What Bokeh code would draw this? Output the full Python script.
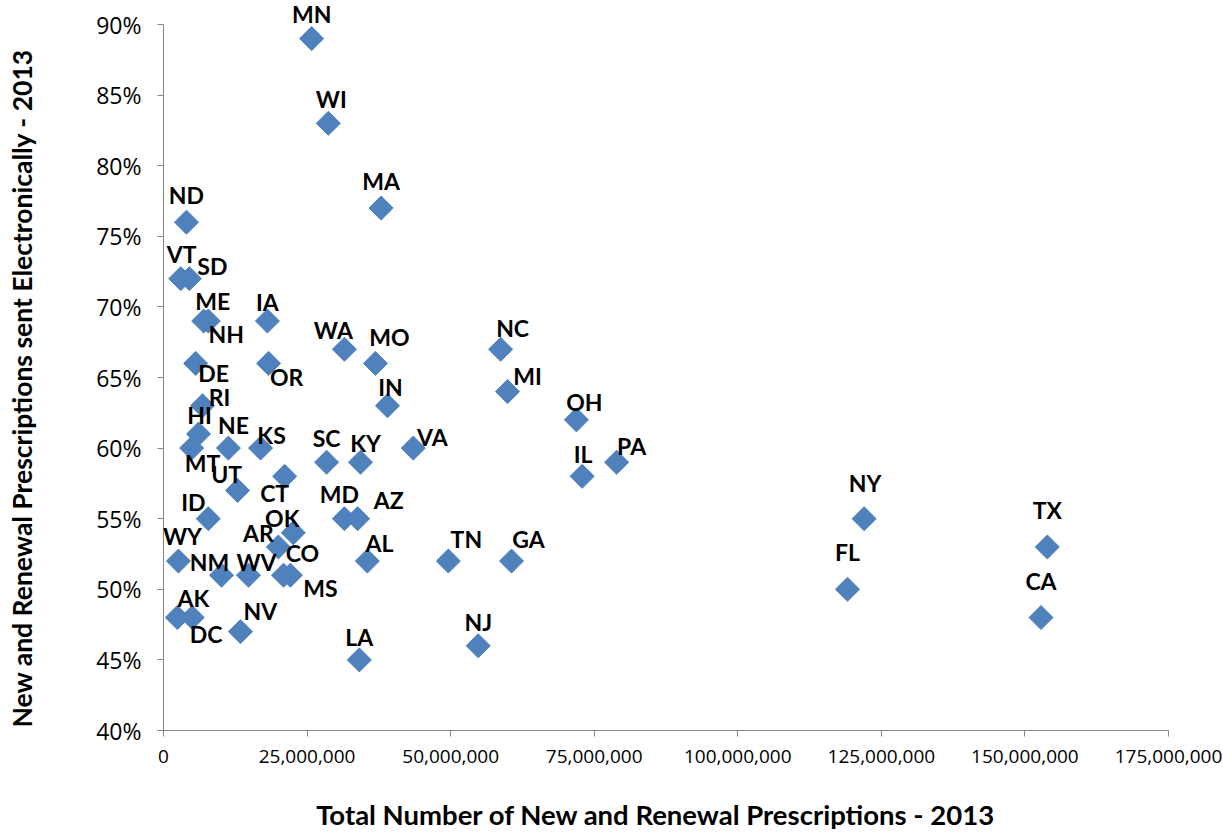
import math
from bokeh.plotting import figure, ColumnDataSource
from bokeh.models import NumeralTickFormatter, FixedTicker, Range1d, LabelSet
from bokeh.core.properties import value
from bokeh.embed import file_html
from bokeh.resources import INLINE

# ---- data ----
states = ["MN", "WI", "MA", "ND", "VT", "SD", "ME", "NH", "IA", "DE",
          "OR", "WA", "MO", "NC", "MI", "IN", "RI", "HI", "MT", "NE",
          "KS", "CT", "UT", "SC", "KY", "VA", "OH", "IL", "PA", "NY",
          "TX", "CA", "FL", "NJ", "GA", "TN", "LA", "AL", "MD", "AZ",
          "OK", "AR", "CO", "MS", "WV", "NM", "WY", "AK", "DC", "NV", "ID"]

total_rx = [25800000, 28700000, 37900000, 4000000, 3000000, 4500000, 7000000, 7800000, 18100000, 5600000,
            18300000, 31500000, 36900000, 58700000, 59900000, 39000000, 6800000, 6100000, 4900000, 11300000,
            16900000, 21100000, 12900000, 28400000, 34300000, 43500000, 71900000, 72900000, 78900000, 122000000,
            153900000, 152800000, 119100000, 54800000, 60600000, 49600000, 34100000, 35500000, 31500000, 33800000,
            22600000, 20000000, 22100000, 20900000, 14800000, 10100000, 2600000, 2400000, 5000000, 13400000, 7800000]

pct_electronic = [0.89, 0.83, 0.77, 0.76, 0.72, 0.72, 0.69, 0.69, 0.69, 0.66,
                  0.66, 0.67, 0.66, 0.67, 0.64, 0.63, 0.63, 0.61, 0.60, 0.60,
                  0.60, 0.58, 0.57, 0.59, 0.59, 0.60, 0.62, 0.58, 0.59, 0.55,
                  0.53, 0.48, 0.50, 0.46, 0.52, 0.52, 0.45, 0.52, 0.55, 0.55,
                  0.54, 0.53, 0.51, 0.51, 0.51, 0.51, 0.52, 0.48, 0.48, 0.47, 0.55]

x_ticks = [0, 25000000, 50000000, 75000000, 100000000, 125000000, 150000000, 175000000]
y_ticks = [0.40, 0.45, 0.50, 0.55, 0.60, 0.65, 0.70, 0.75, 0.80, 0.85, 0.90]

x_title = "Total Number of New and Renewal Prescriptions - 2013"
y_title = "New and Renewal Prescriptions sent Electronically - 2013"

# ---- label placement (screen pixels; dy positive = up) ----
label_dx = [0, 3, 0, 0, 1, 23, 9, 18, 0, 18,
            18, -11, 14, 12, 20, 3, 17, 1, 11, 5,
            11, -10, -11, 0, 5, 19, 8, 1, 15, 1,
            0, 0, 0, 0, 17, 18, 0, 12, -5, 31,
            -11, -20, 12, 37, 8, -12, 4, 16, 14, 20, -15]
label_dy = [25, 24, 27, 27, 25, 13, 20, -13, 19, -10,
            -14, 19, 26, 21, 16, 19, 9, 19, -15, 23,
            13, -17, 16, 24, 19, 11, 18, 22, 16, 36,
            37, 37, 37, 24, 22, 22, 23, 18, 25, 19,
            15, 14, 22, -13, 13, 13, 25, 20, -16, 21, 17]

src = ColumnDataSource(dict(x=total_rx, y=pct_electronic, st=states,
                            dx=label_dx, dy=label_dy))

# y range extends a little above 90% so that the top label has room; the axis stops at 90%
p = figure(width=1223, height=835, output_backend="svg", toolbar_location=None,
           x_range=Range1d(0, 175000000), y_range=Range1d(0.40, 0.917),
           min_border_left=163, min_border_right=55, min_border_top=0, min_border_bottom=105)
p.outline_line_color = None
p.xgrid.visible = False
p.ygrid.visible = False
p.background_fill_color = "white"

p.scatter("x", "y", source=src, marker="square", size=17, angle=math.pi / 4,
          fill_color="#4F81BD", line_color="#4F81BD")

labels = LabelSet(x="x", y="y", text="st", source=src, x_offset="dx", y_offset="dy",
                  text_align="center", text_baseline="middle",
                  text_font=value("Lato"), text_font_style="bold", text_font_size="23px",
                  text_color="black")
p.add_layout(labels)

for ax in (p.xaxis[0], p.yaxis[0]):
    ax.axis_line_color = "#868686"
    ax.major_tick_line_color = "#868686"
    ax.minor_tick_line_color = None
    ax.major_tick_in = 0
    ax.major_tick_out = 6
    ax.major_label_text_color = "black"
    ax.major_label_text_font = "Open Sans"
    ax.axis_label_text_font = "Lato"
    ax.axis_label_text_font_style = "bold"
    ax.axis_label_text_color = "black"

p.xaxis.ticker = FixedTicker(ticks=x_ticks)
p.xaxis.formatter = NumeralTickFormatter(format="0,0")
p.xaxis.major_label_text_font_size = "19px"
p.xaxis.major_label_standoff = 13
# trailing no-break spaces nudge the centred titles slightly off the frame centre, as in the original
p.xaxis.axis_label = x_title + "\u00a0" * 3
p.xaxis.axis_label_text_font_size = "27.5px"
p.xaxis.axis_label_standoff = 32

p.yaxis.bounds = (0.40, 0.90)
p.yaxis.ticker = FixedTicker(ticks=y_ticks)
p.yaxis.formatter = NumeralTickFormatter(format="0%")
p.yaxis.major_label_text_font_size = "23px"
p.yaxis.major_label_standoff = 16
p.yaxis.axis_label = y_title + "\u00a0" * 7
p.yaxis.axis_label_text_font_size = "26.5px"
p.yaxis.axis_label_standoff = 55

open("out.html", "w").write(file_html(p, INLINE))
